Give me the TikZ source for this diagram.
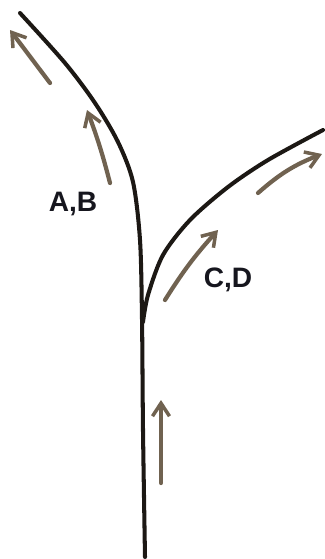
\documentclass[tikz,border=0pt]{standalone}
\usepackage{fontspec}
\setsansfont{Liberation Sans}
\usepackage{tikz}
\usetikzlibrary{arrows.meta, positioning, calc}
\usepackage{xcolor}
\definecolor{inkline}{RGB}{28,24,20}
\definecolor{pencil}{RGB}{112,98,80}
\definecolor{labelink}{RGB}{22,22,30}

\begin{document}
\begin{tikzpicture}[x=0.02cm, y=-0.02cm,
    trunk/.style={draw=inkline, line width=2.3pt, line cap=round},
    flow/.style={draw=pencil, line width=2.4pt, line cap=round, -{Straight Barb[length=2.6mm, width=3.4mm, line width=2pt]}},
    pairlabel/.style={font=\sffamily\bfseries\fontsize{16}{18}\selectfont, text=labelink}]
  \useasboundingbox (0,0) rectangle (325,559);
  % stem and branches
  \coordinate (base) at (145,557);
  \coordinate (fork) at (142,318);
  \coordinate (topL) at (20,13);
  \coordinate (topR) at (323,130);
  \draw[trunk] plot[smooth] coordinates {(base) (143,430) (fork) (140,240) (133,182) (118,142) (95,103) (65,63) (topL)};
  \draw[trunk] plot[smooth] coordinates {(143,322) (148,295) (163,255) (190,220) (228,187) (268,160) (topR)};
  % direction arrows
  \coordinate (upS) at (161,483);
  \coordinate (upE) at (161,400);
  \coordinate (abS) at (110,183);
  \coordinate (abE) at (87,110);
  \coordinate (ab2S) at (50,83);
  \coordinate (ab2E) at (10,30);
  \coordinate (cdS) at (165,300);
  \coordinate (cdE) at (218,230);
  \coordinate (cd2S) at (258,193);
  \coordinate (cd2E) at (322,154);
  \draw[flow] (upS) -- (upE);
  \draw[flow] (abS) to[bend right=3] (abE);
  \draw[flow] (ab2S) -- (ab2E);
  \draw[flow] (cdS) to[bend left=5] (cdE);
  \draw[flow] (cd2S) to[bend left=10] (cd2E);
  % labels
  \node[pairlabel] (ab) at (73,204) {A,B};
  \node[pairlabel] (cd) at (228,280) {C,D};
\end{tikzpicture}
\end{document}
